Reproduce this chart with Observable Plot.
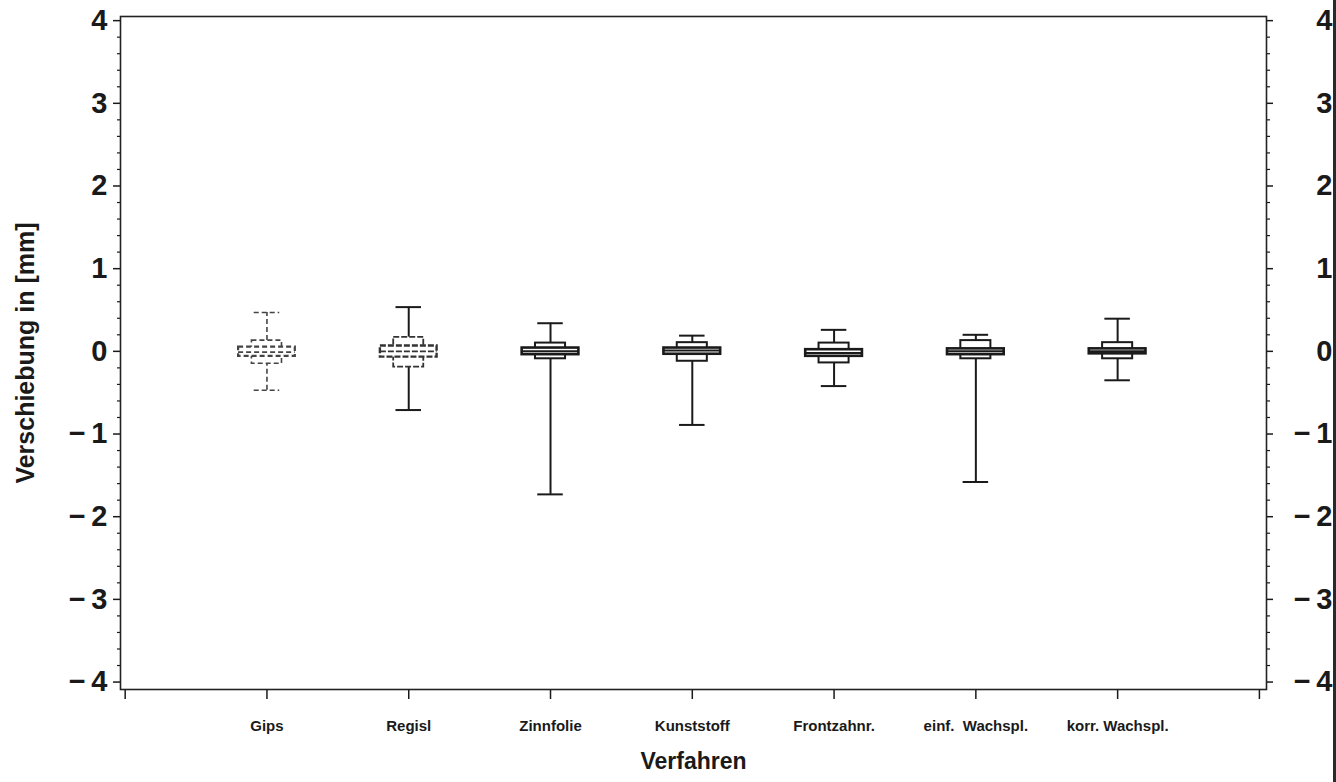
<!DOCTYPE html>
<html><head><meta charset="utf-8">
<script src="https://cdn.jsdelivr.net/npm/d3@7"></script>
<script src="https://cdn.jsdelivr.net/npm/@observablehq/plot@0.6"></script>
<style>
html,body{margin:0;padding:0;background:#fff;}
#wrap{position:relative;width:1336px;height:782px;overflow:hidden;}
#edge{position:absolute;left:1333px;top:0;width:3px;height:782px;background:#2a2a2a;}
</style></head><body>
<div id="wrap"><div id="edge"></div></div>
<script>
const categories = ["Gips", "Regisl", "Zinnfolie", "Kunststoff", "Frontzahnr.", "einf.\u00a0\u00a0Wachspl.", "korr. Wachspl."];
const whiskerLow  = [-0.47, -0.71, -1.73, -0.89, -0.42, -1.58, -0.35];
const whiskerHigh = [0.47, 0.535, 0.34, 0.19, 0.26, 0.20, 0.395];
const boxLow      = [-0.15, -0.19, -0.09, -0.12, -0.14, -0.09, -0.09];
const boxHigh     = [0.13, 0.17, 0.10, 0.105, 0.10, 0.13, 0.105];
const innerLow    = [-0.06, -0.07, -0.04, -0.035, -0.06, -0.04, -0.03];
const innerHigh   = [0.05, 0.065, 0.04, 0.04, 0.02, 0.03, 0.03];
const medians     = [-0.01, 0.0, 0.0, 0.01, -0.02, 0.0, 0.0];
const yTicks = [-4, -3, -2, -1, 0, 1, 2, 3, 4];
const xTicks = [0, 1, 2, 3, 4, 5, 6, 7, 8];
const yMinor = d3.range(-40, 41, 2).map(v => v / 10).filter(v => !Number.isInteger(v));

const rows = categories.map((c, k) => ({
  cat: c, i: k + 1, wl: whiskerLow[k], wh: whiskerHigh[k], bl: boxLow[k], bh: boxHigh[k],
  il: innerLow[k], ih: innerHigh[k], med: medians[k]
}));

const CAP = 0.09, NARROW = 0.106, WIDE = 0.2;
const fmt = d => d < 0 ? "\u2212\u2009" + (-d) : String(d);

function boxMarks(data, whiskerStyle, boxStyle) {
  return [
    Plot.ruleX(data, {x: "i", y1: "wl", y2: "bl", ...whiskerStyle}),
    Plot.ruleX(data, {x: "i", y1: "bh", y2: "wh", ...whiskerStyle}),
    Plot.ruleY(data, {y: "wl", x1: d => d.i - CAP, x2: d => d.i + CAP, ...whiskerStyle}),
    Plot.ruleY(data, {y: "wh", x1: d => d.i - CAP, x2: d => d.i + CAP, ...whiskerStyle}),
    Plot.rect(data, {x1: d => d.i - NARROW, x2: d => d.i + NARROW, y1: "bl", y2: "bh", fill: "white", ...boxStyle}),
    Plot.rect(data, {x1: d => d.i - WIDE, x2: d => d.i + WIDE, y1: "il", y2: "ih", fill: "white", ...boxStyle, strokeWidth: boxStyle.strokeWidth + 0.6}),
    Plot.ruleY(data, {y: "med", x1: d => d.i - WIDE, x2: d => d.i + WIDE, ...boxStyle})
  ];
}

const gipsStyle = {stroke: "#444", strokeWidth: 1.6, strokeDasharray: "5,3"};
const regDash = {stroke: "#333", strokeWidth: 1.8, strokeDasharray: "6,2"};
const solid = {stroke: "#1a1a1a", strokeWidth: 2};

const plot = Plot.plot({
  width: 1336,
  height: 782,
  marginTop: 16,
  marginBottom: 93,
  marginLeft: 120,
  marginRight: 70,
  style: {fontFamily: "'Liberation Sans', Arial, sans-serif", background: "white", color: "#1a1a1a"},
  x: {type: "linear", domain: [-0.033, 8.05], axis: null},
  y: {domain: [-4.09, 4.05], axis: null},
  marks: [
    Plot.axisY({anchor: "left", ticks: yMinor, tickSize: 3, tickFormat: () => "", label: null, strokeWidth: 1.2}),
    Plot.axisY({anchor: "left", ticks: yTicks, tickSize: 7, tickPadding: 6, tickFormat: fmt, label: null,
      fontSize: 29, fontWeight: "bold", strokeWidth: 1.5}),
    Plot.axisY({anchor: "right", ticks: yMinor, tickSize: 3, tickFormat: () => "", label: null, strokeWidth: 1.2}),
    Plot.axisY({anchor: "right", ticks: yTicks, tickSize: 6, tickFormat: () => "", label: null, strokeWidth: 1.5}),
    Plot.text(yTicks, {y: d => d, text: fmt, frameAnchor: "right", dx: 66, textAnchor: "end", fontSize: 29, fontWeight: "bold", fill: "#1a1a1a"}),
    Plot.axisX({ticks: xTicks, tickSize: 10, tickPadding: 21, tickFormat: i => categories[i - 1] ?? "", label: null,
      fontSize: 15, fontWeight: "bold", strokeWidth: 1.5}),
    Plot.frame({stroke: "#222", strokeWidth: 1.6}),
    ...boxMarks(rows.filter(d => d.i === 1), gipsStyle, gipsStyle),
    ...boxMarks(rows.filter(d => d.i === 2), solid, regDash),
    ...boxMarks(rows.filter(d => d.i > 2), solid, solid),
    Plot.text(["Verschiebung in [mm]"], {frameAnchor: "left", dx: -95, rotate: -90, textAnchor: "middle", fontSize: 25, fontWeight: "bold", fill: "#1a1a1a"}),
    Plot.text(["Verfahren"], {frameAnchor: "bottom", dy: 79, fontSize: 23, fontWeight: "bold", fill: "#1a1a1a"})
  ]
});
document.getElementById("wrap").prepend(plot);
</script>
</body></html>
